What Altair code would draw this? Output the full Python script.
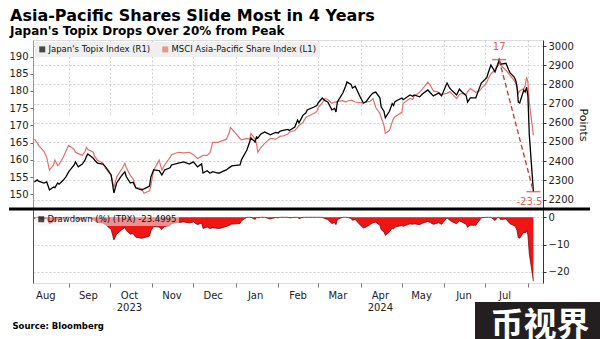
import altair as alt
import pandas as pd

# ---------------- data ----------------
dates = [
    "2023-08-07", "2023-08-09", "2023-08-10", "2023-08-14", "2023-08-16", "2023-08-18", "2023-08-21", "2023-08-22",
    "2023-08-24", "2023-08-25", "2023-08-28", "2023-08-30", "2023-09-01", "2023-09-05", "2023-09-06", "2023-09-08",
    "2023-09-11", "2023-09-13", "2023-09-14", "2023-09-15", "2023-09-19", "2023-09-20", "2023-09-22", "2023-09-26",
    "2023-09-28", "2023-10-02", "2023-10-04", "2023-10-06", "2023-10-10", "2023-10-12", "2023-10-13", "2023-10-16",
    "2023-10-18", "2023-10-20", "2023-10-24", "2023-10-26", "2023-10-30", "2023-10-31", "2023-11-02", "2023-11-06",
    "2023-11-08", "2023-11-10", "2023-11-14", "2023-11-15", "2023-11-20", "2023-11-24", "2023-11-28", "2023-12-01",
    "2023-12-04", "2023-12-07", "2023-12-08", "2023-12-11", "2023-12-13", "2023-12-14", "2023-12-15", "2023-12-19",
    "2023-12-20", "2023-12-22", "2023-12-25", "2023-12-27", "2023-12-28", "2023-12-29", "2024-01-04", "2024-01-05",
    "2024-01-09", "2024-01-11", "2024-01-12", "2024-01-15", "2024-01-16", "2024-01-17", "2024-01-19", "2024-01-22",
    "2024-01-24", "2024-01-26", "2024-01-30", "2024-02-01", "2024-02-02", "2024-02-05", "2024-02-08", "2024-02-09",
    "2024-02-13", "2024-02-15", "2024-02-16", "2024-02-19", "2024-02-21", "2024-02-22", "2024-02-27", "2024-02-29",
    "2024-03-01", "2024-03-04", "2024-03-06", "2024-03-08", "2024-03-11", "2024-03-13", "2024-03-14", "2024-03-15",
    "2024-03-19", "2024-03-21", "2024-03-22", "2024-03-25", "2024-03-26", "2024-03-28", "2024-04-01", "2024-04-03",
    "2024-04-05", "2024-04-08", "2024-04-10", "2024-04-12", "2024-04-15", "2024-04-16", "2024-04-18", "2024-04-19",
    "2024-04-22", "2024-04-24", "2024-04-25", "2024-04-26", "2024-05-01", "2024-05-02", "2024-05-07", "2024-05-09",
    "2024-05-10", "2024-05-14", "2024-05-16", "2024-05-20", "2024-05-22", "2024-05-24", "2024-05-28", "2024-05-30",
    "2024-06-03", "2024-06-05", "2024-06-07", "2024-06-10", "2024-06-12", "2024-06-14", "2024-06-17", "2024-06-18",
    "2024-06-20", "2024-06-24", "2024-06-26", "2024-06-28", "2024-07-02", "2024-07-03", "2024-07-05", "2024-07-08",
    "2024-07-09", "2024-07-10", "2024-07-11", "2024-07-12", "2024-07-16", "2024-07-18", "2024-07-19", "2024-07-22",
    "2024-07-23", "2024-07-24", "2024-07-25", "2024-07-26", "2024-07-29", "2024-07-30", "2024-07-31", "2024-08-01",
    "2024-08-02", "2024-08-05",
]

topix = [
    2291, 2302, 2296, 2286, 2292, 2250, 2265, 2262, 2286, 2280, 2300, 2318, 2344, 2380, 2396, 2370,
    2385, 2406, 2425, 2437, 2415, 2405, 2390, 2385, 2370, 2328, 2234, 2286, 2328, 2344, 2320, 2286,
    2290, 2260, 2250, 2255, 2270, 2318, 2354, 2350, 2328, 2354, 2365, 2380, 2390, 2396, 2385, 2396,
    2370, 2385, 2338, 2350, 2338, 2340, 2345, 2338, 2338, 2345, 2354, 2365, 2370, 2375, 2380, 2406,
    2458, 2500, 2521, 2500, 2526, 2520, 2540, 2552, 2545, 2537, 2550, 2547, 2555, 2562, 2565, 2560,
    2578, 2614, 2600, 2640, 2651, 2667, 2682, 2690, 2703, 2729, 2715, 2708, 2667, 2675, 2656, 2708,
    2755, 2790, 2812, 2800, 2781, 2790, 2729, 2703, 2710, 2740, 2755, 2760, 2730, 2682, 2660, 2626,
    2660, 2700, 2690, 2710, 2729, 2720, 2745, 2738, 2745, 2735, 2750, 2771, 2755, 2740, 2755, 2740,
    2807, 2780, 2765, 2745, 2775, 2760, 2740, 2708, 2730, 2730, 2770, 2807, 2835, 2859, 2901, 2865,
    2885, 2900, 2929, 2905, 2910, 2875, 2860, 2838, 2823, 2790, 2708, 2703, 2771, 2760, 2786, 2740,
    2538, 2241,
]

msci = [
    166.0, 165.0, 164.2, 162.5, 160.7, 157.0, 158.5, 159.9, 158.4, 158.6, 160.7, 162.5, 164.2, 163.0, 162.2, 161.8,
    161.3, 162.5, 163.6, 163.0, 162.2, 161.0, 159.9, 159.0, 157.5, 155.5, 152.0, 155.0, 157.5, 159.0, 157.8, 155.5,
    154.5, 152.0, 151.7, 150.3, 151.0, 152.5, 157.0, 159.9, 157.0, 158.5, 160.7, 161.5, 162.2, 162.0, 162.2, 161.5,
    160.4, 161.0, 161.3, 161.3, 162.0, 163.3, 165.1, 165.1, 165.3, 165.5, 166.0, 167.7, 169.4, 169.0, 166.2, 165.8,
    166.2, 166.0, 167.7, 166.0, 164.8, 162.2, 163.5, 164.8, 165.5, 166.2, 166.0, 166.5, 166.8, 167.0, 167.5, 168.0,
    168.5, 169.4, 170.0, 170.9, 172.3, 172.5, 173.5, 174.0, 175.2, 176.5, 177.8, 177.5, 176.4, 176.8, 176.7, 177.0,
    177.2, 176.8, 177.0, 177.3, 177.2, 176.8, 176.6, 176.4, 176.8, 177.0, 177.8, 175.2, 173.5, 172.3, 170.0, 167.7,
    168.5, 171.0, 172.0, 172.5, 173.8, 176.4, 177.8, 177.5, 178.5, 179.6, 180.5, 182.5, 181.5, 180.0, 179.6, 179.0,
    179.3, 179.8, 179.0, 177.8, 179.0, 179.3, 179.0, 179.8, 180.7, 179.6, 179.8, 180.7, 182.5, 183.5, 185.0, 186.0,
    187.0, 188.0, 188.6, 187.5, 186.0, 185.0, 184.5, 183.0, 182.5, 181.0, 179.3, 180.0, 180.7, 181.5, 184.0, 182.5,
    176.7, 167.1,
]

drawdown = [
    -0.5, 0.0, -0.3, -0.7, -0.4, -2.3, -1.6, -1.7, -0.7, -1.0, -0.1, 0.0, 0.0, 0.0, 0.0, -1.1,
    -0.5, 0.0, 0.0, 0.0, -0.9, -1.3, -1.9, -2.1, -2.7, -4.5, -8.3, -6.2, -4.5, -3.8, -4.8, -6.2,
    -6.0, -7.3, -7.7, -7.5, -6.9, -4.9, -3.4, -3.6, -4.5, -3.4, -3.0, -2.3, -1.9, -1.7, -2.1, -1.7,
    -2.7, -2.1, -4.1, -3.6, -4.1, -4.0, -3.8, -4.1, -4.1, -3.8, -3.4, -3.0, -2.7, -2.5, -2.3, -1.3,
    0.0, 0.0, 0.0, -0.8, 0.0, -0.2, 0.0, 0.0, -0.3, -0.6, -0.1, -0.2, 0.0, 0.0, 0.0, -0.2,
    0.0, 0.0, -0.5, 0.0, 0.0, 0.0, 0.0, 0.0, 0.0, 0.0, -0.5, -0.8, -2.3, -2.0, -2.7, -0.8,
    0.0, 0.0, 0.0, -0.4, -1.1, -0.8, -3.0, -3.9, -3.6, -2.6, -2.0, -1.8, -2.9, -4.6, -5.4, -6.6,
    -5.4, -4.0, -4.3, -3.6, -3.0, -3.3, -2.4, -2.6, -2.4, -2.7, -2.2, -1.5, -2.0, -2.6, -2.0, -2.6,
    -0.2, -1.1, -1.7, -2.4, -1.3, -1.8, -2.6, -3.7, -2.9, -2.9, -1.5, -0.2, 0.0, 0.0, 0.0, -1.2,
    -0.6, 0.0, 0.0, -0.8, -0.6, -1.8, -2.4, -3.1, -3.6, -4.7, -7.5, -7.7, -5.4, -5.8, -4.9, -6.5,
    -13.4, -23.5,
]

series_labels = ["Japan's Topix Index (R1)", "MSCI Asia-Pacific Share Index (L1)"]
series_colors = ["#000000", "#e3706b"]
dd_label = "Drawdown (%) (TPX) -23.4995"

peak_date, peak_value, peak_text = "2024-07-11", 2929, "17"
trough_date, trough_value, trough_text = "2024-08-05", 2241, "-23.5"

month_start_ym = [(2023, 9), (2023, 10), (2023, 11), (2023, 12), (2024, 1), (2024, 2),
                  (2024, 3), (2024, 4), (2024, 5), (2024, 6), (2024, 7), (2024, 8)]
month_label_ym = [(2023, 8), (2023, 9), (2023, 10), (2023, 11), (2023, 12), (2024, 1),
                  (2024, 2), (2024, 3), (2024, 4), (2024, 5), (2024, 6), (2024, 7)]
left_ticks = [150, 155, 160, 165, 170, 175, 180, 185, 190]
right_ticks = [2200, 2300, 2400, 2500, 2600, 2700, 2800, 2900, 3000]
dd_ticks = [0, -10, -20]

title_text = "Asia-Pacific Shares Slide Most in 4 Years"
subtitle_text = "Japan's Topix Drops Over 20% from Peak"
source_text = "Source: Bloomberg"
watermark_text = "币视界"

# ---------------- tables ----------------
df = pd.DataFrame({"date": pd.to_datetime(dates), "topix": topix, "msci": msci, "dd": drawdown})
ann = pd.DataFrame({"d1": pd.to_datetime([peak_date]), "v1": [peak_value],
                    "d2": pd.to_datetime([trough_date]), "v2": [trough_value]})
marks_df = pd.DataFrame({"d": pd.to_datetime([peak_date, trough_date]),
                         "v": [peak_value, trough_value],
                         "t": [peak_text, trough_text]})
leg1 = pd.DataFrame({"s": series_labels})
leg2 = pd.DataFrame({"s": [dd_label]})
one = pd.DataFrame({"k": [0]})

FONT = "DejaVu Sans"
TOP_H = 169
TOTAL_H = 243
W = 510

xscale = alt.Scale(domain=[alt.DateTime(year=2023, month=8, date=6),
                           alt.DateTime(year=2024, month=8, date=12)])
topix_scale = alt.Scale(domain=[2150.5, 3031.3], range=[TOP_H, 0], nice=False, zero=False)
msci_scale = alt.Scale(domain=[145.73, 194.79], range=[TOP_H, 0], nice=False, zero=False)
dd_scale = alt.Scale(domain=[-24.15, 3.05], range=[TOTAL_H, TOP_H], nice=False, zero=False)

GRID = dict(gridColor="#cfcfcf", gridDash=[2, 2], gridWidth=1)
LBL = dict(labelFont=FONT, labelFontSize=10, labelColor="#222222")

base = alt.Chart(df)

# drawdown area (carries month-start grid axis)
dd_area = base.mark_area(color="#f01515", opacity=1).encode(
    x=alt.X("date:T", scale=xscale,
            axis=alt.Axis(orient="bottom", values=[alt.DateTime(year=y, month=m, date=1) for y, m in month_start_ym],
                          labels=False, ticks=True, tickSize=4, tickColor="#777777", domain=False,
                          grid=True, title=None, **GRID)),
    y=alt.Y("dd:Q", scale=dd_scale,
            axis=alt.Axis(orient="right", values=dd_ticks, format="d", tickSize=3, tickColor="#333333",
                          domainColor="#333333", grid=True, title=None, labelPadding=2, **GRID, **LBL)),
    y2=alt.datum(0),
)

# drawdown outline (carries the month-label axis and left domain line)
dd_line = base.mark_line(color="#5a0000", strokeWidth=0.7).encode(
    x=alt.X("date:T", scale=xscale,
            axis=alt.Axis(orient="bottom",
                          values=[alt.DateTime(year=y, month=m, date=15) for y, m in month_label_ym],
                          labelExpr="[timeFormat(datum.value, '%b'), month(datum.value) == 9 ? '2023' : (month(datum.value) == 3 ? '2024' : '')]",
                          ticks=False, tickSize=0, domain=False, grid=False, labelPadding=7, labelLineHeight=12.5,
                          labelFlush=False, labelOverlap=False,
                          title=source_text, titleX=-21, titleY=45, titleAlign="left", titleAnchor="start",
                          titleBaseline="alphabetic", titleFont=FONT, titleFontSize=8.5, titleFontWeight="bold",
                          titleColor="#000000", **LBL)),
    y=alt.Y("dd:Q", scale=dd_scale,
            axis=alt.Axis(orient="left", labels=False, ticks=False, grid=False, domainColor="#555555", title=None)),
)

msci_line = base.mark_line(color=series_colors[1], strokeWidth=1.2).encode(
    x=alt.X("date:T", scale=xscale, axis=None),
    y=alt.Y("msci:Q", scale=msci_scale,
            axis=alt.Axis(orient="left", values=left_ticks, tickSize=3, tickColor="#666666", domainColor="#999999",
                          grid=False, title=None, labelPadding=2, **LBL)),
)

topix_line = base.mark_line(color=series_colors[0], strokeWidth=1.3).encode(
    x=alt.X("date:T", scale=xscale, axis=None),
    y=alt.Y("topix:Q", scale=topix_scale,
            axis=alt.Axis(orient="right", values=right_ticks, format="d", tickSize=3, tickColor="#333333",
                          domainColor="#333333", grid=True, title="Points", titleFont=FONT, titleFontSize=11,
                          titleFontWeight="normal", titleColor="#111111", titlePadding=4, labelPadding=2,
                          **GRID, **LBL)),
)

arrow = alt.Chart(ann).mark_rule(color="#c9403b", strokeWidth=1.4, strokeDash=[5, 3]).encode(
    x=alt.X("d1:T", scale=xscale, axis=None), x2="d2:T",
    y=alt.Y("v1:Q", scale=topix_scale, axis=None), y2="v2:Q",
)

end_ticks = alt.Chart(marks_df).mark_tick(color="#c9403b", orient="horizontal", size=14, thickness=1.5).encode(
    x=alt.X("d:T", scale=xscale, axis=None),
    y=alt.Y("v:Q", scale=topix_scale, axis=None),
)

peak_lbl = alt.Chart(marks_df.iloc[[0]]).mark_text(color="#d9625c", font=FONT, fontSize=10, dy=-13).encode(
    x=alt.X("d:T", scale=xscale, axis=None),
    y=alt.Y("v:Q", scale=topix_scale, axis=None),
    text="t:N",
)
trough_lbl = alt.Chart(marks_df.iloc[[1]]).mark_text(color="#d9625c", font=FONT, fontSize=10, dy=10, dx=-4).encode(
    x=alt.X("d:T", scale=xscale, axis=None),
    y=alt.Y("v:Q", scale=topix_scale, axis=None),
    text="t:N",
)

separator = alt.Chart(one).mark_rule(color="#000000", strokeWidth=3).encode(
    x=alt.value(-24), x2=alt.value(557), y=alt.value(TOP_H)
)

legend_top = alt.Chart(leg1).mark_square(size=36, filled=True).encode(
    color=alt.Color("s:N", scale=alt.Scale(domain=series_labels, range=series_colors),
                    legend=alt.Legend(orient="none", legendX=2, legendY=2, direction="horizontal", title=None,
                                      fillColor="#efefef", padding=3, columnPadding=10, symbolType="square",
                                      symbolSize=36, symbolStrokeWidth=0, labelFont=FONT, labelFontSize=8.5,
                                      labelColor="#111111", labelLimit=400, symbolOffset=0, labelOffset=2)),
).transform_filter("false")

legend_bot = alt.Chart(leg2).mark_square(size=36, filled=True).encode(
    fill=alt.Fill("s:N", scale=alt.Scale(domain=[dd_label], range=["#000000"]),
                  legend=alt.Legend(orient="none", legendX=2, legendY=173, direction="horizontal", title=None,
                                    fillColor="rgba(240,240,240,0.55)", padding=2, symbolType="square",
                                    symbolSize=36, symbolStrokeWidth=0, labelFont=FONT, labelFontSize=8.5,
                                    labelColor="#111111", labelLimit=400, labelOffset=2)),
).transform_filter("false")

wm_box = alt.Chart(one).mark_rect(color="#231f20").encode(
    x=alt.value(442), x2=alt.value(567), y=alt.value(262), y2=alt.value(310)
)
wm_text = alt.Chart(one).mark_text(color="#ffffff", font="Noto Sans CJK SC", fontWeight="bold", fontSize=33,
                                   baseline="middle", align="center").encode(
    x=alt.value(507), y=alt.value(286), text=alt.value(watermark_text)
)

chart = alt.layer(
    dd_area, dd_line, msci_line, topix_line, arrow, end_ticks, peak_lbl, trough_lbl, separator,
    legend_top, legend_bot, wm_box, wm_text,
).resolve_scale(y="independent").resolve_axis(x="independent").properties(
    width=W, height=TOTAL_H,
    title=alt.TitleParams(text=title_text, subtitle=subtitle_text, anchor="start", frame="group", dx=-23,
                          font=FONT, fontSize=16, fontWeight="bold", color="#000000",
                          subtitleFont=FONT, subtitleFontSize=12, subtitleFontWeight="bold",
                          subtitleColor="#000000", subtitlePadding=2, offset=3),
    autosize=alt.AutoSizeParams(type="none"),
    padding={"left": 33, "top": 40, "right": 57, "bottom": 56},
).configure_view(stroke=None).configure(background="#ffffff")

chart.save("out.html", embed_options={"renderer": "svg", "actions": False})
